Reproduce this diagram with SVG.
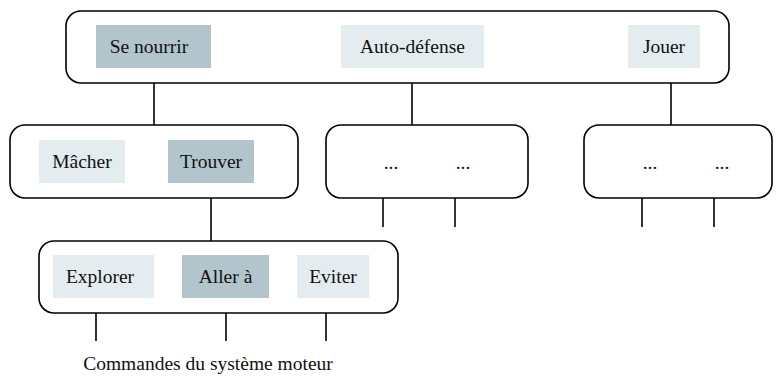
<svg xmlns="http://www.w3.org/2000/svg" width="776" height="387" viewBox="0 0 776 387">
<style>
.frame{fill:#fff;stroke:#000;stroke-width:1.6}
.dark{fill:#b2c5cd}
.light{fill:#e5ecef}
.lbl{font-family:"Liberation Serif","Times New Roman",serif;font-size:19.5px;fill:#111;text-anchor:middle}
.conn line{stroke:#000;stroke-width:1.6}
</style>
<rect width="776" height="387" fill="#fff"/>
<g id="connectors" class="conn">
<line x1="154" y1="68" x2="154" y2="126"/>
<line x1="412" y1="68" x2="412" y2="126"/>
<line x1="671" y1="68" x2="671" y2="126"/>
<line x1="211" y1="183" x2="211" y2="241"/>
<line x1="383" y1="183" x2="383" y2="227"/>
<line x1="455" y1="183" x2="455" y2="227"/>
<line x1="642" y1="183" x2="642" y2="227"/>
<line x1="714" y1="183" x2="714" y2="227"/>
<line x1="96" y1="298" x2="96" y2="341"/>
<line x1="226" y1="298" x2="226" y2="341"/>
<line x1="326" y1="298" x2="326" y2="341"/>
</g>
<g id="level1">
<rect class="frame" x="66" y="11" width="663" height="72" rx="15"/>
</g>
<g id="se-nourrir"><rect class="dark" x="96" y="25" width="115" height="43"/><text class="lbl" x="149" y="53">Se nourrir</text></g>
<g id="auto-defense"><rect class="light" x="341" y="25" width="143" height="43"/><text class="lbl" x="412.5" y="53">Auto-défense</text></g>
<g id="jouer"><rect class="light" x="628" y="25" width="72" height="43"/><text class="lbl" x="664" y="53">Jouer</text></g>
<g id="level2-nourrir">
<rect class="frame" x="10" y="125" width="288" height="73" rx="15"/>
</g>
<g id="macher"><rect class="light" x="39" y="140" width="86" height="43"/><text class="lbl" x="82" y="168">Mâcher</text></g>
<g id="trouver"><rect class="dark" x="168" y="140" width="86" height="43"/><text class="lbl" x="211" y="168">Trouver</text></g>
<g id="level2-defense">
<rect class="frame" x="326" y="125" width="202" height="73" rx="15"/>
<text class="lbl" x="391" y="169">...</text>
<text class="lbl" x="463" y="169">...</text>
</g>
<g id="level2-jouer">
<rect class="frame" x="584" y="125" width="188" height="73" rx="15"/>
<text class="lbl" x="650" y="169">...</text>
<text class="lbl" x="722" y="169">...</text>
</g>
<g id="level3">
<rect class="frame" x="39" y="241" width="359" height="72" rx="15"/>
</g>
<g id="explorer"><rect class="light" x="53" y="255" width="101" height="43"/><text class="lbl" x="100" y="283">Explorer</text></g>
<g id="aller"><rect class="dark" x="182" y="255" width="87" height="43"/><text class="lbl" x="225.5" y="283">Aller à</text></g>
<g id="eviter"><rect class="light" x="297" y="255" width="72" height="43"/><text class="lbl" x="333" y="283">Eviter</text></g>
<g id="commandes"><text class="lbl" x="208" y="370">Commandes du système moteur</text></g>
</svg>
